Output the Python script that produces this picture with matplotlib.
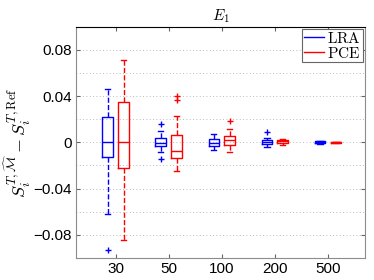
import matplotlib.pyplot as plt
from matplotlib.lines import Line2D

plt.rcParams['mathtext.fontset'] = 'cm'
plt.rcParams['font.family'] = ['Liberation Sans', 'DejaVu Sans']

sizes = ['30', '50', '100', '200', '500']

# box stats: whislo, q1, med, q3, whishi, outliers
lra_whislo = [-0.062, -0.0087, -0.0064, -0.0043, -0.0015]
lra_q1 = [-0.0128, -0.0032, -0.0035, -0.0017, -0.0008]
lra_med = [0.0005, -0.0003, -0.0009, 0.0, 0.0]
lra_q3 = [0.0217, 0.0041, 0.0026, 0.0017, 0.0008]
lra_whishi = [0.046, 0.0099, 0.007, 0.004, 0.0016]
lra_fliers = [[-0.093], [0.0163, -0.0142], [], [0.009], []]

pce_whislo = [-0.0843, -0.0252, -0.0084, -0.0026, -0.0004]
pce_q1 = [-0.022, -0.0133, -0.002, -0.0003, -0.0002]
pce_med = [0.0006, -0.0072, 0.0017, 0.0009, 0.0]
pce_q3 = [0.0348, 0.0061, 0.0052, 0.0023, 0.0002]
pce_whishi = [0.0713, 0.0226, 0.0113, 0.0032, 0.0004]
pce_fliers = [[], [0.040, 0.037], [0.0185], [], []]


def make_stats(lo, q1, med, q3, hi, fl):
    return [dict(whislo=a, q1=b, med=c, q3=d, whishi=e, fliers=f)
            for a, b, c, d, e, f in zip(lo, q1, med, q3, hi, fl)]


fig = plt.figure(figsize=(3.74, 2.80), dpi=100)
ax = fig.add_axes([0.203, 0.079, 0.773, 0.825])

pos = list(range(1, len(sizes) + 1))
for stats, col, off in [
    (make_stats(lra_whislo, lra_q1, lra_med, lra_q3, lra_whishi, lra_fliers), 'b', -0.15),
    (make_stats(pce_whislo, pce_q1, pce_med, pce_q3, pce_whishi, pce_fliers), 'r', 0.15),
]:
    ax.bxp(stats, positions=[p + off for p in pos], widths=0.2,
           boxprops=dict(color=col, lw=1.0),
           medianprops=dict(color=col, lw=1.0),
           whiskerprops=dict(color=col, lw=1.0, ls='--'),
           capprops=dict(color=col, lw=1.0),
           flierprops=dict(marker='+', markeredgecolor=col, markersize=4, mew=1.0),
           capwidths=0.1, manage_ticks=False)

ax.set_xlim(0.25, 5.7)
ax.set_ylim(-0.1, 0.1)
ax.set_xticks(pos)
ax.set_xticklabels(sizes)
ax.set_yticks([-0.08, -0.04, 0, 0.04, 0.08])
ax.set_yticklabels(['\u22120.08', '\u22120.04', '0', '0.04', '0.08'])
ax.set_yticks([-0.1, -0.06, -0.02, 0.02, 0.06, 0.1], minor=True)
ax.yaxis.grid(True, which='both', ls=(0, (1, 3)), color='0.65', lw=0.6)
ax.set_axisbelow(True)
ax.tick_params(axis='both', which='both', direction='in', labelsize=11,
               top=True, right=True, length=3, color='0.4', pad=3)
ax.tick_params(axis='y', which='minor', length=0)

for s in ['left', 'right', 'bottom']:
    ax.spines[s].set_color('0.55')
ax.spines['top'].set_color('black')

ax.set_title(r'$E_1$', fontsize=11, pad=5)
ax.set_ylabel(r'$S_i^{T,\widehat{\mathcal{M}}} - S_i^{T,\mathrm{Ref}}$', fontsize=13, labelpad=0)

handles = [Line2D([], [], color='b', lw=1.0), Line2D([], [], color='r', lw=1.0)]
leg = ax.legend(handles, [r'$\mathrm{LRA}$', r'$\mathrm{PCE}$'], loc='upper right',
                fontsize=11, handlelength=1.3, handletextpad=0.25,
                labelspacing=0.0, borderpad=0.1, borderaxespad=0.15,
                fancybox=False, framealpha=1)
leg.get_frame().set_edgecolor('0.4')
leg.get_frame().set_linewidth(0.8)

fig.savefig('out.png', dpi=100)
